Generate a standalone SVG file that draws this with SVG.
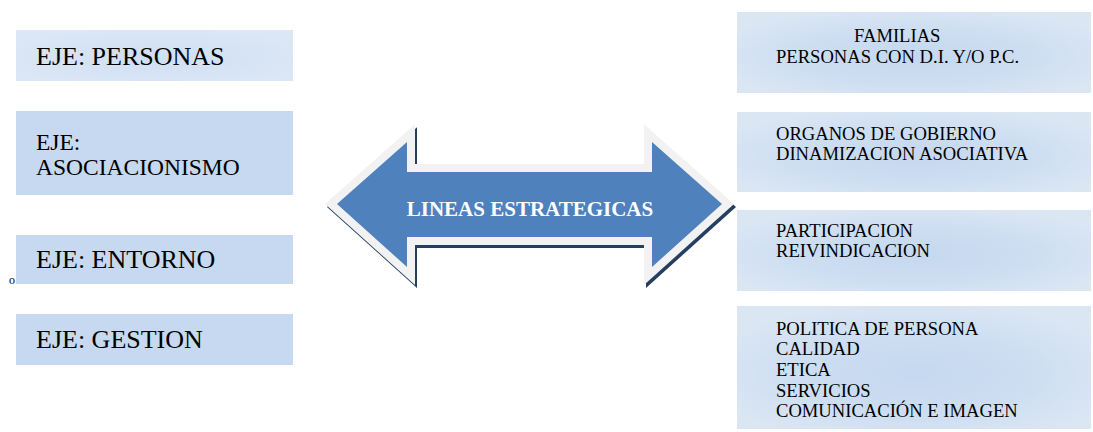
<svg xmlns="http://www.w3.org/2000/svg" width="1093" height="432" viewBox="0 0 1093 432" font-family="'Liberation Serif', 'Times New Roman', serif">
  <defs>
    <radialGradient id="boxGrad" cx="0.5" cy="0.55" r="0.6">
      <stop offset="0" stop-color="#c5d8ef"/>
      <stop offset="0.55" stop-color="#cddef2"/>
      <stop offset="1" stop-color="#dbe6f3"/>
    </radialGradient>
    <radialGradient id="boxGrad1" cx="0.5" cy="0.55" r="0.6">
      <stop offset="0" stop-color="#cfdff3"/>
      <stop offset="1" stop-color="#dce7f5"/>
    </radialGradient>
  </defs>
  <style>
    .eje { fill: #c6d9f1; }
    .lin { fill: url(#boxGrad); }
    .tl { font-family: 'Liberation Serif', 'Times New Roman', serif; font-size: 26px; fill: #000; }
    .tr { font-family: 'Liberation Serif', 'Times New Roman', serif; font-size: 18.6px; fill: #000; }
    .ta { font-family: 'Liberation Serif', 'Times New Roman', serif; font-size: 21px; font-weight: bold; fill: #ffffff; }
  </style>
  <rect width="1093" height="432" fill="#ffffff"/>

  <!-- Left axis boxes -->
  <g id="eje-personas">
    <rect x="16" y="30" width="277" height="51" fill="url(#boxGrad1)"/>
    <text class="tl" x="36" y="65">EJE: PERSONAS</text>
  </g>
  <g id="eje-asociacionismo">
    <rect class="eje" x="16" y="111" width="277" height="84"/>
    <text class="tl" x="36" y="150" style="font-size:23.5px">EJE:</text>
    <text class="tl" x="36" y="175" style="font-size:23.5px">ASOCIACIONISMO</text>
  </g>
  <g id="eje-entorno">
    <rect class="eje" x="16" y="235" width="277" height="49"/>
    <text class="tl" x="36" y="268">EJE: ENTORNO</text>
    <text x="9" y="284" font-family="'Liberation Serif', serif" font-size="12" fill="#000">o</text>
  </g>
  <g id="eje-gestion">
    <rect class="eje" x="16" y="314" width="277" height="51"/>
    <text class="tl" x="36" y="348">EJE: GESTION</text>
  </g>

  <!-- Central double arrow -->
  <g id="connectors">
    <g id="lineas-estrategicas">
      <polygon transform="translate(2,3)" points="337,204 407,142 407,172 652,172 652,142 722,204 652,267 652,237 407,237 407,267" fill="#243f60" stroke="#243f60" stroke-width="16" stroke-linejoin="miter"/>
      <polygon points="337,204 407,142 407,172 652,172 652,142 722,204 652,267 652,237 407,237 407,267" fill="#f2f2f2" stroke="#f2f2f2" stroke-width="16" stroke-linejoin="miter"/>
      <polygon points="337,204 407,142 407,172 652,172 652,142 722,204 652,267 652,237 407,237 407,267" fill="#4f81bd"/>
      <text class="ta" x="530" y="216" text-anchor="middle">LINEAS ESTRATEGICAS</text>
    </g>
  </g>

  <!-- Right strategic lines boxes -->
  <g id="linea-personas">
    <rect class="lin" x="737" y="12" width="354" height="81"/>
    <text class="tr" x="854" y="42">FAMILIAS</text>
    <text class="tr" x="776" y="63">PERSONAS CON D.I. Y/O P.C.</text>
  </g>
  <g id="linea-asociacionismo">
    <rect class="lin" x="737" y="112" width="354" height="80"/>
    <text class="tr" x="776" y="140">ORGANOS DE GOBIERNO</text>
    <text class="tr" x="776" y="160">DINAMIZACION ASOCIATIVA</text>
  </g>
  <g id="linea-entorno">
    <rect class="lin" x="737" y="210" width="354" height="81"/>
    <text class="tr" x="776" y="237">PARTICIPACION</text>
    <text class="tr" x="776" y="257">REIVINDICACION</text>
  </g>
  <g id="linea-gestion">
    <rect class="lin" x="737" y="306" width="354" height="123"/>
    <text class="tr" x="776" y="335">POLITICA DE PERSONA</text>
    <text class="tr" x="776" y="355">CALIDAD</text>
    <text class="tr" x="776" y="376">ETICA</text>
    <text class="tr" x="776" y="397">SERVICIOS</text>
    <text class="tr" x="776" y="417">COMUNICACIÓN E IMAGEN</text>
  </g>
</svg>
